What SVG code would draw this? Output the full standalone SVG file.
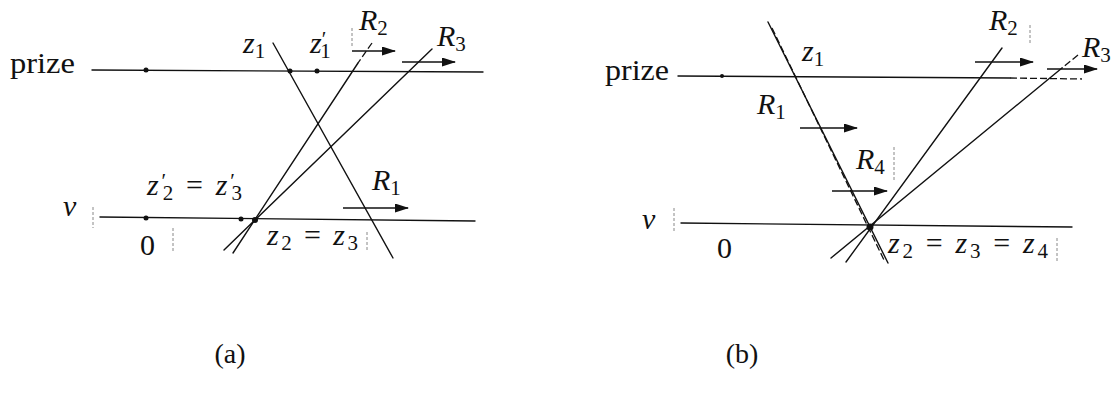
<svg xmlns="http://www.w3.org/2000/svg" width="1118" height="394" viewBox="0 0 1118 394">
<style>
  .ln { stroke:#111; stroke-width:1.4; fill:none; stroke-linecap:round; }
  .dl { stroke:#111; stroke-width:1.3; fill:none; stroke-dasharray:7 3; }
  .ar { stroke:#111; stroke-width:1.6; fill:none; marker-end:url(#ah); }
  .tk { stroke:#888; stroke-width:1; fill:none; stroke-dasharray:3 2; }
</style>
<defs>
  <marker id="ah" markerUnits="userSpaceOnUse" markerWidth="14" markerHeight="10" refX="13" refY="4.5" orient="auto">
    <path d="M0,0 L14,4.5 L0,9 z" fill="#111"/>
  </marker>
</defs>

<g id="connectors">
  <!-- panel (a) -->
  <path class="ln" d="M92,70 L483,72"/>
  <path class="ln" d="M100,217 L475,221"/>
  <path class="ln" d="M273,43 L393,258"/>
  <path class="dl" d="M372,43 L358,63"/>
  <path class="ln" d="M358,63 L233,253"/>
  <path class="ln" d="M432,49 L224,250"/>
  <path class="ar" d="M352,51 L395,51"/>
  <path class="ar" d="M402,62 L455,62"/>
  <path class="ar" d="M343,208 L408,208"/>
  <path class="tk" d="M93,207 L93,228"/>
  <path class="tk" d="M173,228 L173,252"/>
  <path class="tk" d="M367,232 L367,252"/>
  <path class="tk" d="M352,28 L352,48"/>
  <!-- panel (b) -->
  <path class="ln" d="M678,76 L1010,78"/>
  <path class="dl" d="M1010,78 L1082,79"/>
  <path class="ln" d="M681,223 L1072,227"/>
  <path class="ln" d="M768,22 L888,263"/>
  <path class="dl" d="M772,28 L885,262"/>
  <path class="ln" d="M1002,48 L846,262"/>
  <path class="dl" d="M1078,55 L1062,68"/>
  <path class="ln" d="M1062,68 L831,258"/>
  <path class="ar" d="M800,128 L857,128"/>
  <path class="ar" d="M832,191 L887,191"/>
  <path class="ar" d="M975,62 L1033,62"/>
  <path class="ar" d="M1047,69 L1097,69"/>
  <path class="tk" d="M674,208 L674,233"/>
  <path class="tk" d="M894,147 L894,180"/>
  <path class="tk" d="M1030,25 L1030,45"/>
  <path class="tk" d="M1057,238 L1057,262"/>
</g>

<g id="points" fill="#111">
  <circle cx="146" cy="70" r="2.5"/>
  <circle cx="290" cy="71" r="2.5"/>
  <circle cx="317" cy="71" r="2.5"/>
  <circle cx="146" cy="218" r="2.5"/>
  <circle cx="241" cy="219" r="2.5"/>
  <circle cx="255" cy="220" r="3"/>
  <circle cx="722" cy="76" r="2"/>
  <circle cx="870" cy="227" r="3.5"/>
</g>

<g id="labels-a" font-family="'Liberation Serif', 'Times New Roman', 'DejaVu Serif', serif" font-size="30" fill="#111">
  <text x="10" y="73" textLength="65" lengthAdjust="spacingAndGlyphs">prize</text>
  <text x="63" y="216" font-style="italic">ν</text>
  <text x="140" y="255">0</text>
  <text x="243" y="53" font-style="italic">z<tspan font-style="normal" font-size="21" dy="5">1</tspan></text>
  <text x="310" y="53" font-style="italic">z<tspan font-style="normal" font-size="21" dy="-7">′</tspan><tspan font-style="normal" font-size="21" dx="-6" dy="12">1</tspan></text>
  <text x="359" y="30" font-style="italic">R<tspan font-style="normal" font-size="21" dy="5">2</tspan></text>
  <text x="437" y="46" font-style="italic">R<tspan font-style="normal" font-size="21" dy="5">3</tspan></text>
  <text x="372" y="190" font-style="italic">R<tspan font-style="normal" font-size="21" dy="5">1</tspan></text>
  <text x="147" y="195" font-style="italic" textLength="95" lengthAdjust="spacing">z<tspan font-style="normal" font-size="21" dy="-7">′</tspan><tspan font-style="normal" font-size="21" dx="-6" dy="12">2</tspan><tspan dy="-5" font-style="normal"> = </tspan>z<tspan font-style="normal" font-size="21" dy="-7">′</tspan><tspan font-style="normal" font-size="21" dx="-6" dy="12">3</tspan></text>
  <text x="267" y="245" font-style="italic" textLength="91" lengthAdjust="spacing">z<tspan font-style="normal" font-size="21" dy="5">2</tspan><tspan dy="-5" font-style="normal"> = </tspan>z<tspan font-style="normal" font-size="21" dy="5">3</tspan></text>
  <text x="230" y="363" text-anchor="middle" font-size="28">(a)</text>
</g>

<g id="labels-b" font-family="'Liberation Serif', 'Times New Roman', 'DejaVu Serif', serif" font-size="30" fill="#111">
  <text x="605" y="80" textLength="64" lengthAdjust="spacingAndGlyphs">prize</text>
  <text x="642" y="229" font-style="italic">ν</text>
  <text x="717" y="258">0</text>
  <text x="802" y="61" font-style="italic">z<tspan font-style="normal" font-size="21" dy="5">1</tspan></text>
  <text x="757" y="114" font-style="italic">R<tspan font-style="normal" font-size="21" dy="5">1</tspan></text>
  <text x="856" y="169" font-style="italic">R<tspan font-style="normal" font-size="21" dy="5">4</tspan></text>
  <text x="989" y="30" font-style="italic">R<tspan font-style="normal" font-size="21" dy="5">2</tspan></text>
  <text x="1082" y="57" font-style="italic">R<tspan font-style="normal" font-size="21" dy="5">3</tspan></text>
  <text x="888" y="253" font-style="italic" textLength="160" lengthAdjust="spacing">z<tspan font-style="normal" font-size="21" dy="5">2</tspan><tspan dy="-5" font-style="normal"> = </tspan>z<tspan font-style="normal" font-size="21" dy="5">3</tspan><tspan dy="-5" font-style="normal"> = </tspan>z<tspan font-style="normal" font-size="21" dy="5">4</tspan></text>
  <text x="742" y="363" text-anchor="middle" font-size="28">(b)</text>
</g>
</svg>
